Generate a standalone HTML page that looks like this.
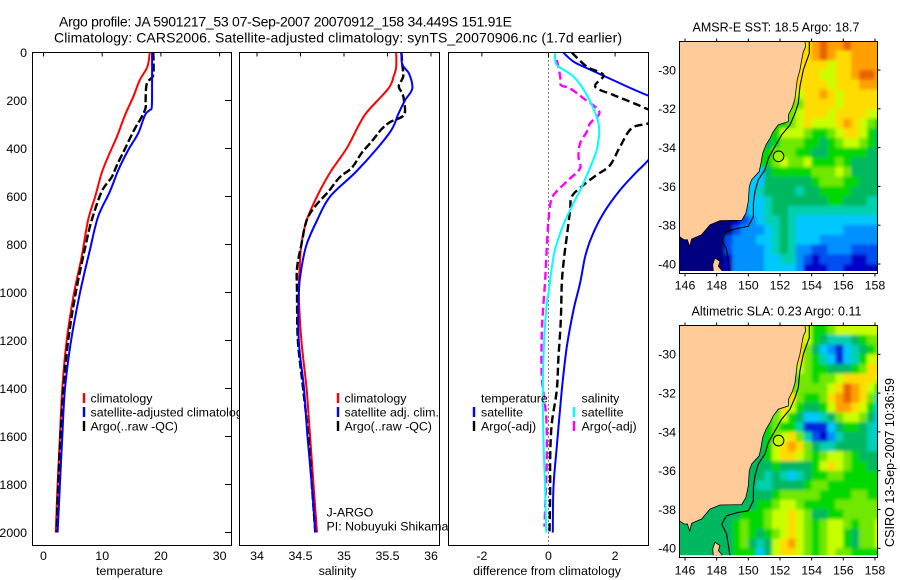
<!DOCTYPE html>
<html><head><meta charset="utf-8">
<style>
html,body{margin:0;padding:0;background:#fff;width:900px;height:580px;overflow:hidden}
svg{display:block}
text{font-family:"Liberation Sans",sans-serif;font-size:12.4px;fill:#000}
</style></head>
<body>
<svg id="fig" width="900" height="580" viewBox="0 0 900 580" xmlns="http://www.w3.org/2000/svg">
<rect width="900" height="580" fill="#fff"/>
<text x="59" y="26.5" style="font-size:14px" textLength="453">Argo profile: JA 5901217_53 07-Sep-2007 20070912_158 34.449S 151.91E</text>
<text x="54" y="42.5" style="font-size:14px" textLength="568">Climatology: CARS2006. Satellite-adjusted climatology: synTS_20070906.nc (1.7d earlier)</text>
<g id="p1"></g>
<g id="p2"></g>
<g id="p3"></g>
<g id="m1"></g>
<g id="m2"></g>
<text x="692.5" y="31.5" style="font-size:12.5px" textLength="167">AMSR-E SST: 18.5 Argo: 18.7</text>
<text x="691.5" y="315.5" style="font-size:12.5px" textLength="170">Altimetric SLA: 0.23 Argo: 0.11</text>
<text transform="translate(894 547) rotate(-90)" style="font-size:12.5px" textLength="169">CSIRO 13-Sep-2007 10:36:59</text>
</svg>
<script>
var depthTicks=[0,200,400,600,800,1000,1200,1400,1600,1800,2000];
var tempTicks=[0,10,20,30];
var salTicks=[34,34.5,35,35.5,36];
var salTickLabels=["34","34.5","35","35.5","36"];
var diffTicks=[-2,0,2];
var lonTicks=[146,148,150,152,154,156,158];
var latTicks=[-30,-32,-34,-36,-38,-40];

var climTempDepth=[0,59,115,184,260,351,434,503,600,698,851,1003,1200,1400,1600,1800,2000];
var climTempValue=[18.1,17.7,16.4,15.3,13.9,12.5,11,9.9,8.8,7.6,6.5,5.2,3.95,3.2,2.8,2.4,2.1];
var satTempDepth=[0,120,225,240,260,336,406,490,580,684,823,1003,1200,1400,1600,1800,2000];
var satTempValue=[18.5,18.5,18.45,18.1,17.3,16.15,14.45,12.75,11.3,9.3,7.9,6.2,4.7,3.66,3.2,2.8,2.4];
var argoTempDepth=[0,60,100,130,200,230,270,320,400,470,520,580,700,800,1000,1200,1400,1600,1800,2000];
var argoTempValue=[18.7,18.75,18.6,17.6,17.4,17.4,16.7,15.5,13.9,12.5,11.6,9.9,8.2,7.2,5.5,4.2,3.4,2.9,2.5,2.25];

var climSalDepth=[0,60,100,150,250,310,400,500,600,700,800,900,1000,1200,1400,1600,1800,2000];
var climSalValue=[35.6,35.6,35.57,35.51,35.26,35.16,35.03,34.84,34.69,34.57,34.51,34.49,34.48,34.51,34.57,34.61,34.65,34.69];
var satSalDepth=[0,50,90,150,200,260,320,400,500,600,700,800,900,1000,1200,1400,1600,1800,2000];
var satSalValue=[35.66,35.67,35.75,35.785,35.7,35.62,35.55,35.38,35.13,34.84,34.69,34.57,34.51,34.48,34.48,34.54,34.58,34.63,34.67];
var argoSalDepth=[0,50,100,140,170,200,260,290,320,370,420,480,520,580,640,700,800,900,1000,1200,1400,1600,1800,2000];
var argoSalValue=[35.66,35.67,35.68,35.63,35.67,35.69,35.69,35.53,35.43,35.32,35.2,35.09,34.95,34.82,34.67,34.57,34.51,34.46,34.46,34.47,34.53,34.59,34.63,34.67];

var diffSatTempDepth=[0,38,65,115,177,232,340,448,497,573,670,767,851,960,1073,1226,1406,1642,1809,2000];
var diffSatTempValue=[0.44,0.75,1.15,1.94,2.95,4.1,3.6,3,2.65,2.15,1.65,1.3,1.1,0.95,0.75,0.55,0.4,0.25,0.15,0.13];
var diffArgoTempDepth=[0,59,94,142,177,205,230,260,295,315,392,469,510,552,600,656,767,851,960,1115,1267,1406,1545,1684,1823,2000];
var diffArgoTempValue=[0.7,1.15,1.65,1.4,1.95,2.45,2.87,3.3,3,2.5,2.15,1.85,1.45,1.05,0.7,0.65,0.55,0.47,0.4,0.37,0.3,0.25,0.1,0.05,0.05,0.03];
var diffSatSalDepth=[0,52,100,177,295,392,462,559,656,753,851,1003,1045,1198,1406,1615,1823,2000];
var diffSatSalValue=[0.2,0.25,0.75,1.15,1.5,1.47,1.3,1,0.65,0.35,0.15,0,-0.05,-0.13,-0.17,-0.15,-0.1,-0.07];
var diffArgoSalDepth=[31,100,135,150,191,247,295,330,378,434,482,531,594,635,698,809,948,1045,1170,1351,1517,1684,1893,1976];
var diffArgoSalValue=[0.25,0.35,0.37,0.65,1.05,1.53,1.25,1.15,0.95,0.9,0.95,0.6,0.15,0.05,0,-0.05,-0.1,-0.15,-0.2,-0.2,-0.07,-0.05,-0.1,-0.12];

var gridLonStart=145.5, gridLatStart=-28.5, gridStep=0.5;
var sstCells=[
[10,10,10,10,10,10,10,10,10,10,10,10,10,10,10,10,10,11,12,11,11,12,11,11,11,11],
[10,10,10,10,10,10,10,10,10,10,10,10,10,10,10,10,10,11,12,11,10,10,11,11,11,11],
[10,10,10,10,10,10,10,10,10,10,10,10,10,10,10,10,10,10,10,9,10,10,11,11,11,11],
[10,10,10,10,10,10,10,10,10,10,10,10,10,10,10,10,10,10,9,9,10,10,11,12,12,11],
[10,10,10,10,10,10,10,10,10,10,10,10,10,10,10,10,10,10,10,9,10,10,10,11,11,11],
[9,9,9,9,9,9,9,9,9,9,9,9,9,9,9,9,10,10,11,10,9,10,10,10,10,10],
[8,8,8,8,8,8,8,8,8,8,8,8,8,8,8,8,10,10,10,10,9,10,10,10,10,10],
[8,8,8,8,8,8,8,8,8,8,8,8,8,8,8,9,10,10,10,9,10,10,10,10,9,9],
[7,7,7,7,7,7,7,7,7,7,7,7,7,7,8,9,10,9,9,9,10,11,10,9,8,7],
[7,7,7,7,7,7,7,7,7,7,7,7,7,9,9,9,8,7,7,8,9,10,10,9,7,6],
[6,6,6,6,6,6,6,6,6,6,6,6,7,8,8,8,7,7,6,7,8,9,9,8,7,6],
[7,7,7,7,7,7,7,7,7,7,7,7,8,8,8,7,7,6,6,7,7,7,7,7,6,6],
[7,7,7,7,7,7,7,7,7,7,7,7,8,9,8,8,9,7,7,7,8,7,6,6,6,6],
[4,4,4,4,4,4,4,4,4,4,4,6,7,7,7,7,7,8,8,8,9,8,6,6,6,6],
[4,4,4,4,4,4,4,4,4,4,4,6,6,6,6,6,6,7,8,8,8,7,7,6,6,6],
[4,4,4,4,4,4,4,4,4,4,5,6,6,6,6,5,6,6,7,7,7,7,6,6,6,6],
[4,4,4,4,4,4,4,4,4,4,4,5,6,6,6,6,6,6,6,7,7,6,6,6,5,5],
[3,3,3,3,3,3,3,3,3,4,4,5,6,6,5,5,5,5,5,5,5,5,5,5,5,5],
[0,0,0,0,0,0,0,1,2,3,4,5,5,6,5,4,4,4,4,4,4,4,4,4,4,4],
[0,0,0,0,0,0,0,2,3,3,3,4,5,6,5,4,4,4,4,4,4,3,3,3,3,3],
[0,0,0,0,0,0,2,3,3,3,4,4,5,6,5,4,4,4,3,3,3,3,3,3,3,3],
[0,0,0,0,0,0,2,3,3,3,3,4,5,6,5,3,3,2,2,3,3,3,2,2,2,2],
[0,0,0,0,0,0,1,3,3,3,3,4,4,5,5,3,2,1,2,2,2,2,1,1,2,2],
[0,0,0,0,0,0,1,3,3,3,3,4,4,4,4,3,1,1,1,2,2,1,1,1,1,1]];
var slaCells=[
[6,6,6,6,6,6,6,6,6,6,6,6,6,6,6,9,9,7,7,8,9,9,9,9,9,9],
[6,6,6,6,6,6,6,6,6,6,6,6,6,6,6,10,9,7,6,5,5,5,6,7,8,8],
[6,6,6,6,6,6,6,6,6,6,6,6,6,6,6,10,8,6,4,3,1.5,4,5,6,7,8],
[6,6,6,6,6,6,6,6,6,6,6,6,6,6,6,10,8,7,5,4,1.5,4,5,7,9,10],
[6,6,6,6,6,6,6,6,6,6,6,6,6,6,6,9,8,7,7,6,6,6,7,8,10,10],
[6,6,6,6,6,6,6,6,6,6,6,6,6,6,6,8,8,7,8,8,9,10,10,10,10,9],
[6,6,6,6,6,6,6,6,6,6,6,6,6,6,8,8,8,8,8,9,10,12,11,10,9,7],
[6,6,6,6,6,6,6,6,6,6,6,6,6,6,10,8,7,7,8,10,11,12,11,10,8,5],
[6,6,6,6,6,6,6,6,6,6,6,6,6,10,9,7,6,6,7,9,11,11,10,9,7,4],
[6,6,6,6,6,6,6,6,6,6,6,6,8,9,7,6,4,4,5,6,8,9,9,8,6,4],
[6,6,6,6,6,6,6,6,6,6,6,7,8,7,7,5,1.5,1.5,1.5,4,6,7,7,6,5,4],
[6,6,6,6,6,6,6,6,6,6,6,7,8,9,10,8,5,2,1,3,5,6,6,6,5,4],
[6,6,6,6,6,6,6,6,6,6,6,7,9,10,11,10,8,6,5,5,6,6,6,6,5,5],
[6,6,6,6,6,6,6,6,6,6,6,7,9,10,10,9,8,7,8,9,9,8,7,6,6,6],
[6,6,6,6,6,6,6,6,6,6,6,6,7,6,6,6,6,7,9,10,9,8,7,7,6,6],
[6,6,6,6,6,6,6,6,6,6,6,5,6,5,4,5,6,7,7,8,8,7,7,7,7,7],
[6,6,6,6,6,6,6,6,6,6,5,5,6,6,6,6,7,8,8,7,7,7,7,7,7,7],
[6,6,6,6,6,6,6,6,6,6,6,6,7,8,8,8,8,8,7,7,7,7,8,8,7,7],
[6,6,6,6,6,6,6,6,6,6,7,7,8,9,9,8,7,7,7,7,8,8,8,8,8,8],
[6,6,6,6,6,6,6,6,7,7,7,8,9,9,10,9,8,6,6,7,7,8,8,8,8,8],
[6,6,6,6,6,6,6,7,8,7,7,8,9,9,10,9,8,7,8,9,9,8,7,8,8,9],
[6,6,6,6,6,6,6,7,8,7,6,7,8,9,10,9,8,7,8,9,9,7,6,8,8,9],
[6,6,6,6,6,6,6,7,8,6,5,6,9,10,11,9,8,7,8,9,9,7,6,8,8,9],
[6,6,6,6,6,6,6,7,7,7,4,6,9,10,10,9,8,7,8,9,8,8,7,7,7,7]];

var coastLon=[153.58,153.62,153.47,153.37,153.26,153.09,153.01,152.95,152.8,152.53,152.53,151.89,151.58,151.37,151.12,150.91,150.8,150.69,150.21,150.06,150,149.85,149.58,148.21,147.58,147.05,146.42,146.3,146.15,145.94,145.64];
var coastLat=[-28.51,-28.8,-29.06,-29.49,-30,-30.51,-31.03,-31.46,-31.89,-32.32,-32.66,-32.83,-33.17,-33.52,-33.86,-34.29,-34.8,-35.23,-35.66,-36,-36.78,-37.38,-37.75,-37.77,-37.98,-38.49,-38.71,-39.12,-38.75,-38.75,-38.58];
var islandLon=[147.89,148.21,148.11,148.38,147.79,147.75];
var islandLat=[-39.69,-39.86,-40.12,-40.38,-40.38,-40.03];
var isobathLon=[153.85,153.85,153.47,153.26,153.16,152.95,152.63,152.11,151.68,151.26,151.05,150.63,150.42,150.32,150.32,150,149.37,148.63,148.32,148.63,148.84];
var isobathLat=[-28.5,-29.14,-30,-30.86,-31.72,-32.23,-32.83,-33.34,-33.95,-34.55,-35.15,-35.66,-36.26,-36.86,-37.55,-38.06,-38.15,-38.32,-38.75,-39.26,-40.38];
var profileLon=151.91, profileLat=-34.449;
var sstArgoLevel=8.5, slaArgoLevel=9;

var levelColors=["#000080","#0000c8","#0050f0","#0090ff","#00c8ff","#00d0b0","#00b860","#00d800","#70e800","#c8ff00","#ffdc00","#ffa000","#e86400"];

var NS="http://www.w3.org/2000/svg";
function mk(tag,attrs,parent){
  var e=document.createElementNS(NS,tag);
  for(var k in attrs)e.setAttribute(k,attrs[k]);
  parent.appendChild(e);
  return e;
}
function depthY(d){return 52.5+d*0.24;}
function tempX(v){return 43.5+v*5.87;}
function salX(v){return 257+(v-34)*87;}
function diffX(v){return 548.5+v*33.3;}
function smoothPath(xs,ds,sx){
  var p=ds.map(function(d,i){return [sx(xs[i]),depthY(d)];});
  var s="M"+p[0][0].toFixed(1)+" "+p[0][1].toFixed(1);
  for(var i=0;i<p.length-1;i++){
    var a=p[Math.max(0,i-1)],b=p[i],c=p[i+1],e=p[Math.min(p.length-1,i+2)];
    s+=" C"+(b[0]+(c[0]-a[0])/6).toFixed(1)+" "+(b[1]+(c[1]-a[1])/6).toFixed(1)+" "+(c[0]-(e[0]-b[0])/6).toFixed(1)+" "+(c[1]-(e[1]-b[1])/6).toFixed(1)+" "+c[0].toFixed(1)+" "+c[1].toFixed(1);
  }
  return s;
}
function addText(parent,str,x,y,anchor){
  var t=mk("text",{x:x,y:y,"text-anchor":anchor||"start"},parent);
  t.textContent=str;
  return t;
}
function panelFrame(g,x,w,clipId){
  var bg=mk("rect",{x:x,y:52.5,width:w,height:493,fill:"#fff"},g);
  
  
  var defs=mk("defs",{},g);
  var cp=mk("clipPath",{id:clipId},defs);
  mk("rect",{x:x,y:52.5,width:w,height:493},cp);
}
function panelBorder(g,x,w){
  var b=mk("rect",{x:x,y:52.5,width:w,height:493,fill:"none",stroke:"#000","stroke-width":1},g);
  
  
}
function series(g,clipId,xs,ds,sx,color,dash,name){
  var a={d:smoothPath(xs,ds,sx),fill:"none",stroke:color,"stroke-width":dash?2.4:2,"clip-path":"url(#"+clipId+")"};
  if(dash)a["stroke-dasharray"]=dash;
  var l=mk("path",a,g);
  
  
}
function topTicks(g,vals,labels,sx){
  vals.forEach(function(v,i){
    var t=mk("line",{x1:sx(v),x2:sx(v),y1:52.5,y2:56.5,stroke:"#000"},g);
    
    
    var lb=addText(g,labels[i],sx(v),560,"middle");
    
    
  });
}
function legendMark(g,x,yc,color){
  var m=mk("line",{x1:x,x2:x,y1:yc-5,y2:yc+5,stroke:color,"stroke-width":2.4},g);
  
  
}
function legendText(g,str,x,yc){
  var t=addText(g,str,x,yc+4.4);
  
  
}

/* panel 1 */
var p1=document.getElementById("p1");
panelFrame(p1,32.5,199,"c1");
series(p1,"c1",climTempValue,climTempDepth,tempX,"#f00",null,"climatology-temperature-line");
series(p1,"c1",argoTempValue,argoTempDepth,tempX,"#000","8 3","argo-temperature-line");
series(p1,"c1",satTempValue,satTempDepth,tempX,"#00f",null,"satellite-temperature-line");
panelBorder(p1,32.5,199);
topTicks(p1,tempTicks,tempTicks.map(String),tempX);
depthTicks.forEach(function(d){
  var t=mk("line",{x1:225,x2:231.5,y1:depthY(d),y2:depthY(d),stroke:"#000"},p1);
  
  
  var lb=addText(p1,String(d),27,depthY(d)+4.4,"end");
  
  
});
var xl1=addText(p1,"temperature",129.5,575,"middle");


legendMark(p1,84,398,"#f00");legendMark(p1,84,412,"#00f");legendMark(p1,84,426,"#000");
legendText(p1,"climatology",90.5,398);legendText(p1,"satellite-adjusted climatology",90.5,412);legendText(p1,"Argo(..raw -QC)",90.5,426);

/* panel 2 */
var p2=document.getElementById("p2");
panelFrame(p2,239.5,200,"c2");
series(p2,"c2",climSalValue,climSalDepth,salX,"#f00",null,"climatology-salinity-line");
series(p2,"c2",argoSalValue,argoSalDepth,salX,"#000","8 3","argo-salinity-line");
series(p2,"c2",satSalValue,satSalDepth,salX,"#00f",null,"satellite-salinity-line");
panelBorder(p2,239.5,200);
topTicks(p2,salTicks,salTickLabels,salX);
var xl2=addText(p2,"salinity",337.5,575,"middle");


legendMark(p2,338,398,"#f00");legendMark(p2,338,412,"#00f");legendMark(p2,338,426,"#000");
legendText(p2,"climatology",344.5,398);legendText(p2,"satellite adj. clim.",344.5,412);legendText(p2,"Argo(..raw -QC)",344.5,426);
var ja=addText(p2,"J-ARGO",326.5,516.5);


var pi=addText(p2,"PI: Nobuyuki Shikama",326.5,530.5);



/* panel 3 */
var p3=document.getElementById("p3");
panelFrame(p3,448.5,200,"c3");
var zero=mk("line",{x1:diffX(0),x2:diffX(0),y1:52.5,y2:545.5,stroke:"#000","stroke-dasharray":"1 3"},p3);


series(p3,"c3",diffSatTempValue,diffSatTempDepth,diffX,"#00f",null,"satellite-temperature-difference-line");
series(p3,"c3",diffArgoTempValue,diffArgoTempDepth,diffX,"#000","8 4","argo-temperature-difference-line");
series(p3,"c3",diffArgoSalValue,diffArgoSalDepth,diffX,"#f0f","8 4","argo-salinity-difference-line");
series(p3,"c3",diffSatSalValue,diffSatSalDepth,diffX,"#0ff",null,"satellite-salinity-difference-line");
panelBorder(p3,448.5,200);
topTicks(p3,diffTicks,diffTicks.map(String),diffX);
var xl3=addText(p3,"difference from climatology",547,575,"middle");


legendMark(p3,474,412,"#00f");legendMark(p3,474,426,"#000");
legendMark(p3,574,412,"#0ff");legendMark(p3,574,426,"#f0f");
legendText(p3,"temperature",481,398);legendText(p3,"satellite",481,412);legendText(p3,"Argo(-adj)",481,426);
legendText(p3,"salinity",581.5,398);legendText(p3,"satellite",581.5,412);legendText(p3,"Argo(-adj)",581.5,426);

/* maps */
function levelColor(v){
  var i=Math.max(0,Math.min(levelColors.length-1,v));
  var lo=Math.floor(i),hi=Math.ceil(i),f=i-lo;
  function ch(s,p){return parseInt(s.substr(p,2),16);}
  var c=[1,3,5].map(function(p){return Math.round(ch(levelColors[lo],p)*(1-f)+ch(levelColors[hi],p)*f);});
  return "rgb("+c.join(",")+")";
}
function drawMap(g,cells,y30,boxTop,boxBottom,dataBottom,clipId,circleLevel,labelY){
  function lonX(lon){return 685+(lon-146)*15.83;}
  function latY(lat){return y30+(-30-lat)*19.4;}
  var defs=mk("defs",{},g);
  var cp=mk("clipPath",{id:clipId},defs);
  mk("rect",{x:679.5,y:boxTop,width:198,height:dataBottom-boxTop},cp);
  var flt=mk("filter",{id:clipId+"b",filterUnits:"userSpaceOnUse",x:650,y:boxTop-30,width:250,height:290},defs);
  mk("feGaussianBlur",{stdDeviation:1.7},flt);
  var clipLayer=mk("g",{"clip-path":"url(#"+clipId+")"},g);
  var cellLayer=mk("g",{filter:"url(#"+clipId+"b)"},clipLayer);
  
  
  cells.forEach(function(row,r){
    row.forEach(function(v,c){
      var x0=lonX(gridLonStart+c*gridStep),x1=lonX(gridLonStart+(c+1)*gridStep);
      var y0=latY(gridLatStart-r*gridStep),y1=latY(gridLatStart-(r+1)*gridStep);
      if(c===0)x0-=14;
      if(c===row.length-1)x1+=14;
      if(r===0)y0-=14;
      if(r===cells.length-1)y1+=14;
      var cell=mk("rect",{x:x0.toFixed(1),y:y0.toFixed(1),width:(x1-x0+0.6).toFixed(1),height:(y1-y0+0.6).toFixed(1),fill:levelColor(v)},cellLayer);
      
      
    });
  });
  var overlay=mk("g",{"clip-path":"url(#"+clipId+")"},g);
  var pts=coastLon.map(function(l,i){return lonX(l).toFixed(1)+","+latY(coastLat[i]).toFixed(1);});
  var land=mk("polygon",{points:pts.join(" ")+" 679.5,"+latY(coastLat[coastLat.length-1]).toFixed(1)+" 679.5,"+boxTop,fill:"#ffcc99"},overlay);
  
  
  var coast=mk("polyline",{points:pts.join(" "),fill:"none",stroke:"#000","stroke-width":0.8},overlay);
  
  
  var isl=mk("polygon",{points:islandLon.map(function(l,i){return lonX(l).toFixed(1)+","+latY(islandLat[i]).toFixed(1);}).join(" "),fill:"#ffcc99",stroke:"#000","stroke-width":0.8},overlay);
  
  
  var iso=mk("polyline",{points:isobathLon.map(function(l,i){return lonX(l).toFixed(1)+","+latY(isobathLat[i]).toFixed(1);}).join(" "),fill:"none",stroke:"#000","stroke-width":1.1},overlay);
  
  
  var marker=mk("circle",{cx:lonX(profileLon),cy:latY(profileLat),r:5.3,fill:levelColor(circleLevel),stroke:"#000","stroke-width":1},overlay);
  
  
  var box=mk("rect",{x:679.5,y:boxTop,width:198,height:boxBottom-boxTop,fill:"none",stroke:"#000"},g);
  
  
  lonTicks.forEach(function(l){
    var t=mk("line",{x1:lonX(l),x2:lonX(l),y1:boxTop-3,y2:boxTop,stroke:"#000"},g);
    
    
    var bt=mk("line",{x1:lonX(l),x2:lonX(l),y1:boxBottom,y2:boxBottom+3,stroke:"#000"},g);
    
    
    var lb=addText(g,String(l),lonX(l),labelY,"middle");
    
    
  });
  latTicks.forEach(function(l){
    var t=mk("line",{x1:877.5,x2:880.5,y1:latY(l),y2:latY(l),stroke:"#000"},g);
    
    
    var lb=addText(g,String(l),676,latY(l)+4.4,"end");
    
    
  });
}
drawMap(document.getElementById("m1"),sstCells,70,41.5,273.5,271,"cm1",sstArgoLevel,289.5);
drawMap(document.getElementById("m2"),slaCells,354.3,325.5,557.5,555.3,"cm2",slaArgoLevel,574.5);
</script>
</body></html>
